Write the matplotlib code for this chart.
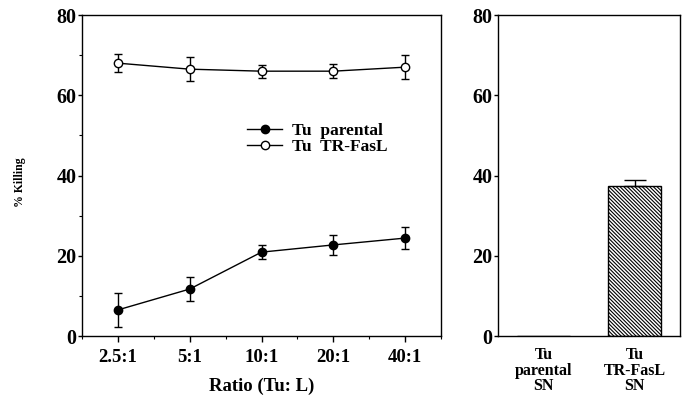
import matplotlib
matplotlib.use("Agg")
import matplotlib.pyplot as plt
from matplotlib.ticker import MultipleLocator

plt.rcParams['font.family'] = ['Liberation Serif', 'DejaVu Serif']
plt.rcParams['font.weight'] = 'bold'
plt.rcParams['hatch.linewidth'] = 0.8

ratios = ["2.5:1", "5:1", "10:1", "20:1", "40:1"]
parental = [6.5, 11.7, 20.9, 22.7, 24.4]
parental_err = [4.2, 3.0, 1.8, 2.4, 2.7]
fasl = [68.0, 66.5, 66.0, 66.0, 67.0]
fasl_err = [2.2, 3.0, 1.6, 1.8, 3.0]

bar_cats = ["Tu\nparental\nSN", "Tu\nTR-FasL\nSN"]
bar_vals = [0.0, 37.5]
bar_err = [0.0, 1.3]

fig = plt.figure(figsize=(6.86, 3.96), dpi=100)
ax1 = fig.add_axes([82/686, 60/396, (441-82)/686, (336-15)/396])
ax2 = fig.add_axes([498/686, 60/396, (680-498)/686, (336-15)/396])

x = list(range(len(ratios)))
ax1.errorbar(x, parental, yerr=parental_err, fmt='none', ecolor='black',
             capsize=3, elinewidth=1)
ax1.errorbar(x, fasl, yerr=fasl_err, fmt='none', ecolor='black',
             capsize=3, elinewidth=1)
ax1.plot(x, parental, color='black', marker='o', ms=6, mfc='black', mec='black',
         lw=1, label='Tu  parental')
ax1.plot(x, fasl, color='black', marker='o', ms=6, mfc='white', mec='black',
         lw=1, label='Tu  TR-FasL')
ax1.set_xlim(-0.5, len(ratios) - 0.5)
ax1.set_ylim(0, 80)
ax1.set_xticks(x)
ax1.set_xticklabels(ratios)
ax1.xaxis.set_minor_locator(MultipleLocator(0.5))
ax1.yaxis.set_major_locator(MultipleLocator(20))
ax1.yaxis.set_minor_locator(MultipleLocator(10))
ax1.tick_params(axis='x', which='major', direction='out', length=4, width=1, labelsize=13.5, pad=5)
ax1.tick_params(axis='y', which='major', direction='out', length=3, width=1, labelsize=14.5, pad=1)
ax1.tick_params(axis='both', which='minor', direction='out', length=2, width=0.8)
for lbl in ax1.get_yticklabels() + ax1.get_xticklabels():
    lbl.set_fontweight('bold')
ax1.set_xlabel("Ratio (Tu: L)", fontsize=13.5, fontweight='bold')
ax1.xaxis.set_label_coords(0.5, -0.13)
ax1.set_ylabel("% Killing", fontsize=8.5, fontweight='bold')
ax1.yaxis.set_label_coords(-0.155, 0.48)
ax1.legend(loc='upper left', bbox_to_anchor=(0.46, 0.664), frameon=False, fontsize=12.5,
           handlelength=2.0, handletextpad=0.6, labelspacing=0.0, borderpad=0,
           borderaxespad=0)

xb = list(range(len(bar_cats)))
ax2.bar(xb, bar_vals, width=0.58, color='white', edgecolor='black',
        hatch='\\\\\\\\\\\\\\\\\\', lw=1)
ax2.errorbar([xb[1]], [bar_vals[1]], yerr=[[0], [bar_err[1]]], fmt='none', ecolor='black',
             capsize=8, elinewidth=1)
ax2.set_xlim(-0.5, len(bar_cats) - 0.5)
ax2.set_ylim(0, 80)
ax2.set_xticks(xb)
ax2.set_xticklabels(bar_cats, fontsize=11.5, fontweight='bold', linespacing=0.95)
ax2.yaxis.set_major_locator(MultipleLocator(20))
ax2.tick_params(axis='y', which='major', direction='out', length=3, width=1, labelsize=14.5, pad=1)
ax2.tick_params(axis='x', which='major', length=0, pad=8)
for lbl in ax2.get_yticklabels() + ax2.get_xticklabels():
    lbl.set_fontweight('bold')

for ax in (ax1, ax2):
    for sp in ax.spines.values():
        sp.set_linewidth(1)

fig.savefig("out.png", dpi=100)
